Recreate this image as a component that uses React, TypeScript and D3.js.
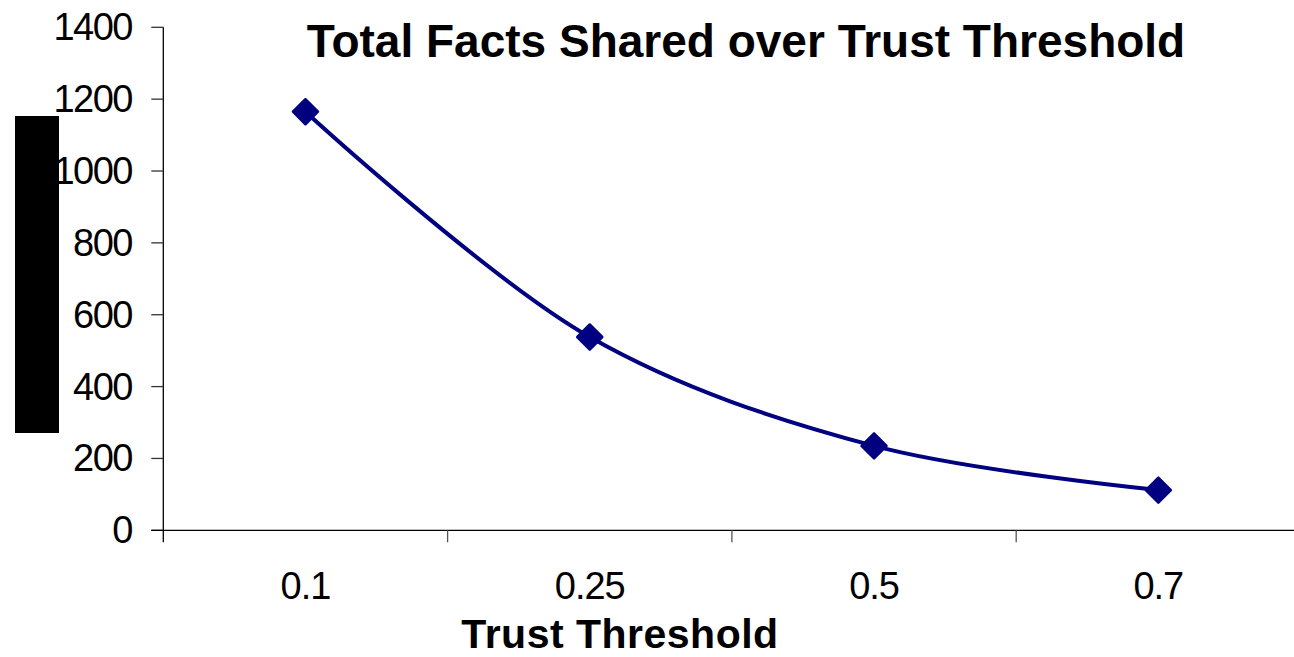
import React from "react";
import * as d3 from "d3";

const categories = ["0.1", "0.25", "0.5", "0.7"];
const totalFacts = [1165, 538, 235, 112];
const yTicks = [0, 200, 400, 600, 800, 1000, 1200, 1400];
const chartTitle = "Total Facts Shared over Trust Threshold";
const xTitle = "Trust Threshold";

const W = 1294;
const H = 657;
const left = 163.3;
const right = 1300.5;
const top = 27.3;
const bottom = 530.3;
const navy = "#000080";
const font = "'Liberation Sans', Arial, sans-serif";

export default function App() {
  const x = d3.scaleBand<string>().domain(categories).range([left, right]).padding(0);
  const y = d3.scaleLinear().domain([0, 1400]).range([bottom, top]);
  const cx = (c: string) => (x(c) as number) + x.bandwidth() / 2;
  const pts: [number, number][] = categories.map((c, i) => [cx(c), y(totalFacts[i])]);
  const line = d3.line().curve(d3.curveCatmullRom.alpha(0.5))(pts) || "";
  const diamond = d3.symbol().type(d3.symbolDiamond2).size(400)() || "";
  const bounds = categories.map((c) => x(c) as number).concat([right]);

  return (
    <svg
      width={W}
      height={H}
      style={{ position: "absolute", left: 0, top: 0, display: "block", background: "#fff" }}
    >
      <rect x={0} y={0} width={W} height={H} fill="#fff" />
      {/* redacted y-axis title block */}
      <rect x={15} y={116} width={44} height={317} fill="#000" />
      <text
        x={746}
        y={57}
        textAnchor="middle"
        fontFamily={font}
        fontWeight="bold"
        fontSize={46}
        fill="#000"
      >
        {chartTitle}
      </text>
      {/* y axis */}
      <line x1={left} x2={left} y1={top} y2={bottom + 12} stroke="#000" strokeWidth={1.3} />
      {yTicks.map((t) => (
        <g key={t}>
          <line x1={left - 12} x2={left} y1={y(t)} y2={y(t)} stroke="#333" strokeWidth={1.3} />
          <text
            x={132}
            y={y(t) + 13}
            textAnchor="end"
            fontFamily={font}
            fontSize={38}
            letterSpacing={-1.5}
            fill="#000"
          >
            {t}
          </text>
        </g>
      ))}
      {/* x axis */}
      <line x1={left - 12} x2={W} y1={bottom} y2={bottom} stroke="#000" strokeWidth={1.3} />
      {bounds.slice(1).map((b, i) => (
        <line key={i} x1={b} x2={b} y1={bottom} y2={bottom + 12} stroke="#555" strokeWidth={1.3} />
      ))}
      {categories.map((c) => (
        <text
          key={c}
          x={cx(c)}
          y={599}
          textAnchor="middle"
          fontFamily={font}
          fontSize={38}
          letterSpacing={-1}
          fill="#000"
        >
          {c}
        </text>
      ))}
      <text
        x={620}
        y={648}
        textAnchor="middle"
        fontFamily={font}
        fontWeight="bold"
        fontSize={41}
        letterSpacing={0.5}
        fill="#000"
      >
        {xTitle}
      </text>
      {/* series */}
      <path d={line} fill="none" stroke={navy} strokeWidth={4} strokeLinejoin="round" />
      {pts.map(([px, py], i) => (
        <path
          key={i}
          d={diamond}
          transform={`translate(${px},${py})`}
          fill={navy}
          stroke={navy}
          strokeWidth={2.5}
          strokeLinejoin="round"
        />
      ))}
    </svg>
  );
}
